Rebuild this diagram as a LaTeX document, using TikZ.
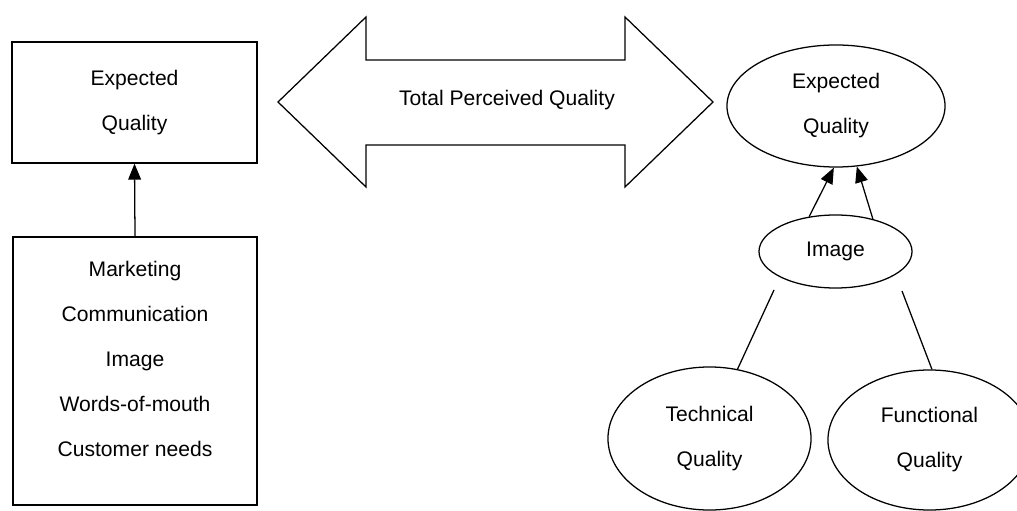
\documentclass[tikz,border=0pt]{standalone}
\usepackage{fontspec}
\setmainfont{Liberation Sans}
\usetikzlibrary{arrows.meta, positioning, shapes.geometric}

\begin{document}
\begin{tikzpicture}[
    x=0.025cm, y=-0.025cm,
    font=\fontsize{15}{32}\selectfont,
    >={Triangle[length=0.4cm, width=0.32cm]},
    % Core item styles
    box/.style={rectangle, draw, line width=0.9pt, align=center, inner sep=0pt},
    oval/.style={ellipse, draw, line width=0.9pt, align=center, inner sep=0pt},
    % Connector styles
    link/.style={line width=0.9pt},
    arrow/.style={->, line width=0.9pt}
]
\useasboundingbox (0,0) rectangle (1017,511);

% --- LEFT: EXPECTED QUALITY AND ITS SOURCES ---
\node[box, minimum width=6.125cm, minimum height=3.025cm] (expbox) at (134.5,102.5) {Expected\\Quality};
\node[box, minimum width=6.1cm, minimum height=6.7cm, text depth=0.6cm] (sources) at (135,371) {Marketing\\Communication\\Image\\Words-of-mouth\\Customer needs};

\draw[arrow] (sources.north) -- (expbox.south);

% --- MIDDLE: TOTAL PERCEIVED QUALITY ---
\node (tpq) at (507,100) {Total Perceived Quality};
\draw[link] (278,102) -- (366,17) -- (366,60) -- (625,60) -- (625,17) -- (713,102)
    -- (625,187) -- (625,145) -- (366,145) -- (366,187) -- cycle;

% --- RIGHT: EXPERIENCED QUALITY ---
\node[oval, minimum width=5.45cm, minimum height=3.05cm] (expq) at (836,106) {Expected\\Quality};
\node[oval, minimum width=3.825cm, minimum height=1.825cm] (img) at (835.5,251.5) {Image};
\node[oval, minimum width=5.075cm, minimum height=3.575cm] (tech) at (709.5,438.5) {Technical\\Quality};
\node[oval, minimum width=5.075cm, minimum height=3.5cm] (func) at (929.5,440) {Functional\\Quality};

\draw[arrow] (img.127) -- (expq.-92);
\draw[arrow] (img.41) -- (expq.-71);

\coordinate (tech_start) at (774,290);
\coordinate (func_start) at (902,291);
\draw[link] (tech_start) -- (tech.68);
\draw[link] (func_start) -- (func.88);

\end{tikzpicture}
\end{document}
